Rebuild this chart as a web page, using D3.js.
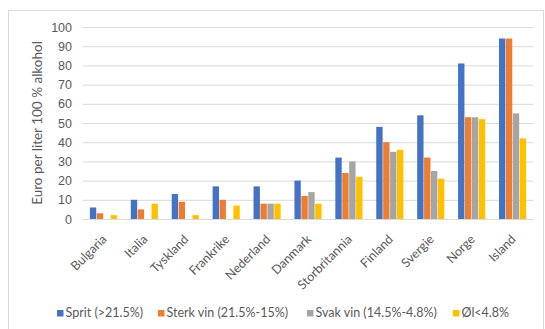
<!DOCTYPE html>
<html>
<head>
<meta charset="utf-8">
<script src="https://cdn.jsdelivr.net/npm/d3@7"></script>
<style>
  html, body { margin: 0; padding: 0; background: #fff; }
  svg { display: block; font-family: Lato, "Open Sans", sans-serif; }
</style>
</head>
<body>
<svg id="chart" width="545" height="329"></svg>
<script>
// Price per litre of pure alcohol, by country and drink type
const categories = ["Bulgaria", "Italia", "Tyskland", "Frankrike", "Nederland", "Danmark",
                    "Storbritannia", "Finland", "Svergie", "Norge", "Island"];
const seriesNames = ["Sprit (>21.5%)", "Sterk vin (21.5%-15%)", "Svak vin (14.5%-4.8%)", "Øl<4.8%"];
const sprit   = [6, 10, 13, 17, 17, 20, 32, 48, 54, 81, 94];
const sterkVin = [3, 5, 9, 10, 8, 12, 24, 40, 32, 53, 94];
const svakVin = [0, 0, 0, 0, 8, 14, 30, 35, 25, 53, 55];
const ol      = [2, 8, 2, 7, 8, 8, 22, 36, 21, 52, 42];
const yTicks = [0, 10, 20, 30, 40, 50, 60, 70, 80, 90, 100];
const colors = ["#4472C4", "#ED7D31", "#A5A5A5", "#FFC000"];
const yTitle = "Euro per liter 100 % alkohol";

const seriesValues = [sprit, sterkVin, svakVin, ol];
const rows = categories.map((c, i) => ({
  category: c,
  values: seriesNames.map((s, j) => ({ series: s, value: seriesValues[j][i] }))
}));

const svg = d3.select("#chart");
const margin = { left: 83, right: 12, top: 27, bottom: 110 };
const W = 545, H = 329;
const plotRight = W - margin.right;
const plotBottom = H - margin.bottom;

// chart area frame
svg.append("rect")
  .attr("x", 8.5).attr("y", 10.5)
  .attr("width", 535).attr("height", 340)
  .attr("fill", "#fff").attr("stroke", "#d9d9d9").attr("stroke-width", 1);

const y = d3.scaleLinear().domain([0, 100]).range([plotBottom, margin.top]);
const x0 = d3.scaleBand().domain(categories)
  .range([margin.left, plotRight]).paddingInner(0.31).paddingOuter(0.155);
const x1 = d3.scaleBand().domain(seriesNames)
  .range([0, x0.bandwidth()]).padding(0.08);

// gridlines
const yAxis = d3.axisLeft(y).tickValues(yTicks).tickSize(-(plotRight - margin.left)).tickPadding(11);
const gy = svg.append("g").attr("transform", `translate(${margin.left},0)`).call(yAxis);
gy.select(".domain").remove();
gy.selectAll(".tick line").attr("stroke", "#d9d9d9").attr("stroke-width", 1);
gy.selectAll(".tick text").attr("fill", "#595959").style("font-size", "12.5px");

// bars
const groups = svg.append("g").selectAll("g").data(rows).join("g")
  .attr("transform", d => `translate(${x0(d.category)},0)`);
groups.selectAll("rect").data(d => d.values).join("rect")
  .attr("x", d => x1(d.series))
  .attr("width", x1.bandwidth())
  .attr("y", d => y(d.value))
  .attr("height", d => y(0) - y(d.value))
  .attr("fill", (d, i) => colors[i]);

// category axis: baseline from the axis, labels rotated 45 degrees
const xAxis = d3.axisBottom(x0).tickSize(0).tickFormat("");
const gx = svg.append("g").attr("transform", `translate(0,${plotBottom})`).call(xAxis);
gx.select(".domain").attr("stroke", "#d9d9d9");
svg.append("g").selectAll("text").data(categories).join("text")
  .attr("transform", d => `translate(${x0(d) + x0.bandwidth() / 2 + 4},${plotBottom + 21}) rotate(-45)`)
  .attr("text-anchor", "end")
  .attr("fill", "#595959").style("font-size", "12.5px")
  .text(d => d);

// y-axis title
svg.append("text")
  .attr("transform", `translate(42,${(margin.top + plotBottom) / 2}) rotate(-90)`)
  .attr("text-anchor", "middle")
  .attr("fill", "#595959").style("font-size", "13.5px")
  .text(yTitle);

// legend
const legendX = [57, 158, 307, 453];
const lg = svg.append("g").selectAll("g").data(seriesNames).join("g")
  .attr("transform", (d, i) => `translate(${legendX[i]},310)`);
lg.append("rect").attr("width", 6.5).attr("height", 6.5).attr("fill", (d, i) => colors[i]);
lg.append("text").attr("x", 8.5).attr("y", 7)
  .attr("fill", "#595959").style("font-size", "12.5px").text(d => d);
</script>
</body>
</html>
